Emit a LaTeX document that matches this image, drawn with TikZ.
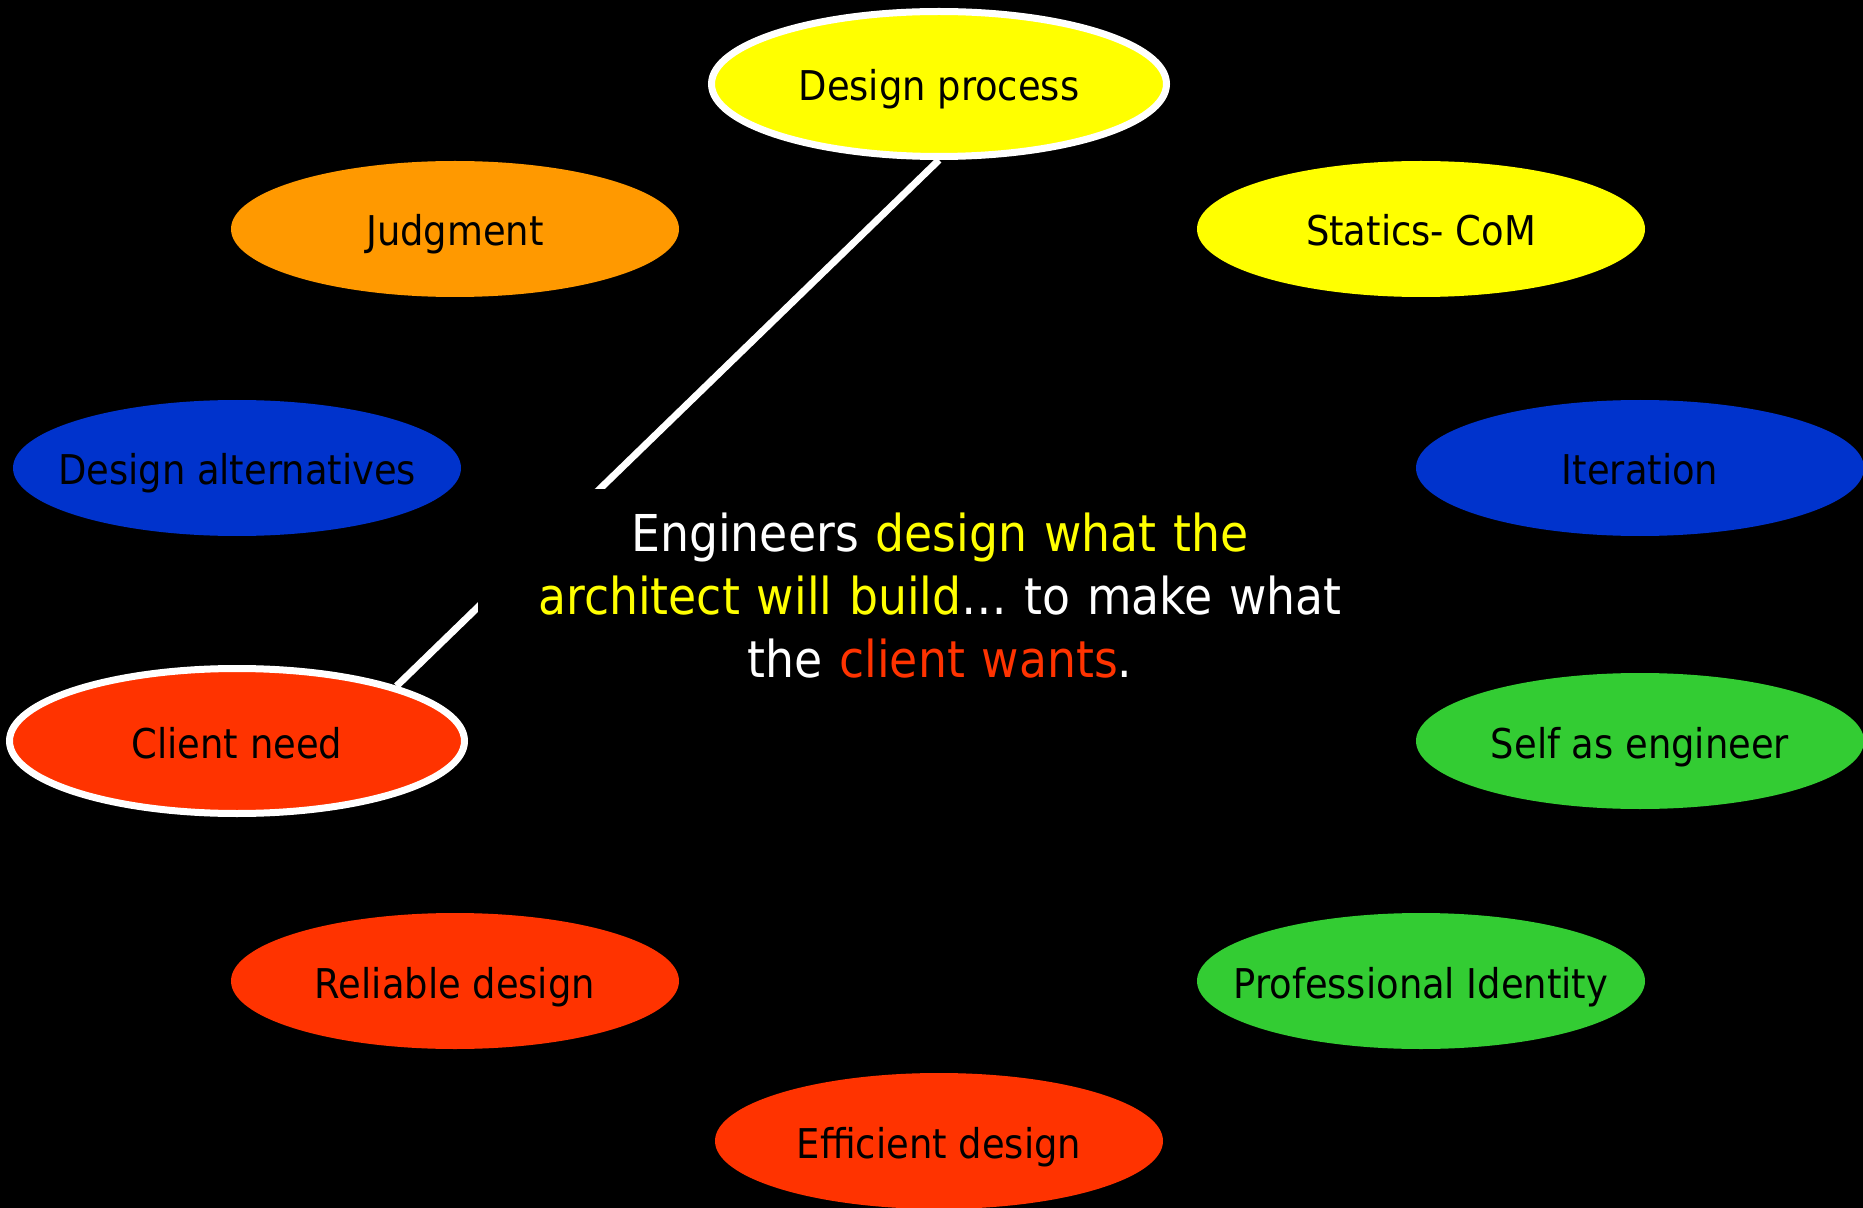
\documentclass[tikz,border=0pt]{standalone}
\usepackage{fontspec}
\setmainfont{DejaVu Sans Condensed}
\usetikzlibrary{shapes.geometric}
\pgfdeclarelayer{back}
\pgfdeclarelayer{bg}
\pgfsetlayers{back,bg,main}
\definecolor{cyellow}{HTML}{FFFF00}
\definecolor{corange}{HTML}{FF9900}
\definecolor{cblue}{HTML}{0033CC}
\definecolor{cred}{HTML}{FF3300}
\definecolor{cgreen}{HTML}{33CC33}
\newcommand{\lbl}[1]{\makebox[0pt]{#1}}
\tikzset{
  bubble/.style={ellipse, minimum width=224pt, minimum height=68pt, inner sep=0pt,
    text height=17pt, text depth=0pt,
    font=\fontsize{20.5}{24}\selectfont, text=black},
  ringed/.style={bubble, draw=white, line width=3.5pt, minimum width=227.5pt, minimum height=72.5pt},
  link/.style={draw=white, line width=3.5pt},
}
\begin{document}
\begin{tikzpicture}[x=0.5pt, y=-0.5pt]
\useasboundingbox (0,0) rectangle (1863,1208);
\begin{pgfonlayer}{back}
\fill[black] (0,0) rectangle (1863,1208);
\end{pgfonlayer}
\node[ringed, fill=cyellow] (dp) at (939,84) {\lbl{Design process}};
\node[bubble, fill=corange] (judg) at (455,229) {\lbl{Judgment}};
\node[bubble, fill=cyellow] (stat) at (1421,229) {\lbl{Statics- CoM}};
\node[bubble, fill=cblue] (alt) at (237,468) {\lbl{Design alternatives}};
\node[bubble, fill=cblue] (iter) at (1640,468) {\lbl{Iteration}};
\node[ringed, fill=cred] (cn) at (237,741) {\lbl{Client need}};
\node[bubble, fill=cgreen] (self) at (1640,741) {\lbl{Self as engineer}};
\node[bubble, fill=cred] (rel) at (455,981) {\lbl{Reliable design}};
\node[bubble, fill=cgreen] (prof) at (1421,981) {\lbl{Professional Identity}};
\node[bubble, fill=cred] (eff) at (939,1141) {\lbl{Efficient design}};
\node[fill=black, anchor=north, text width=450pt, align=center, inner xsep=6pt, inner ysep=12pt,
  text=white, font=\fontsize{25.4}{31.5}\selectfont] (msg) at (940,489)
  {Engineers \textcolor{cyellow}{design what the}\\
   \textcolor{cyellow}{architect will build}\ldots\ to make what\\
   the \textcolor{cred}{client wants}.};
\begin{pgfonlayer}{bg}
\draw[link] (dp.south) -- (cn.19);
\end{pgfonlayer}
\end{tikzpicture}
\end{document}
